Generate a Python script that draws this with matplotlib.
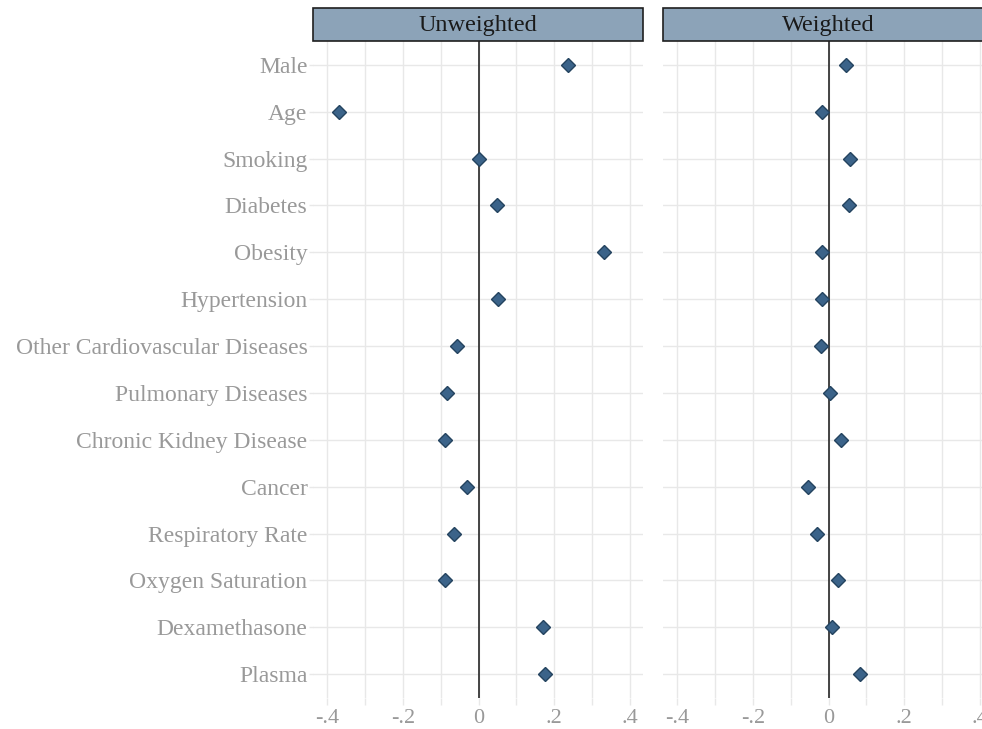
import matplotlib
matplotlib.use("Agg")
import matplotlib.pyplot as plt
from matplotlib.patches import Rectangle

# covariates, top to bottom
labels = ["Male", "Age", "Smoking", "Diabetes", "Obesity", "Hypertension",
          "Other Cardiovascular Diseases", "Pulmonary Diseases",
          "Chronic Kidney Disease", "Cancer", "Respiratory Rate",
          "Oxygen Saturation", "Dexamethasone", "Plasma"]

unweighted = [0.237, -0.368, 0.0, 0.048, 0.331, 0.050, -0.057, -0.083,
              -0.089, -0.030, -0.064, -0.089, 0.171, 0.175]
weighted = [0.047, -0.017, 0.057, 0.053, -0.018, -0.018, -0.019, 0.004,
            0.033, -0.054, -0.030, 0.026, 0.008, 0.082]

panels = ["Unweighted", "Weighted"]
xticks = [-0.4, -0.2, 0, 0.2, 0.4]
xticklabels = ["-.4", "-.2", "0", ".2", ".4"]

plt.rcParams['font.family'] = ['Liberation Serif', 'DejaVu Serif']

W, H = 982, 729
fig = plt.figure(figsize=(W / 100, H / 100), dpi=100)

label_col = "#999999"
grid_col = "#e8e8e8"
mark_face = "#3b6389"
mark_edge = "#24435f"

y = list(range(len(labels), 0, -1))

def px(x0, y0, x1, y1):
    return [x0 / W, 1 - y1 / H, (x1 - x0) / W, (y1 - y0) / H]

for i, (name, vals) in enumerate(zip(panels, [unweighted, weighted])):
    left = 313 + i * 350
    ax = fig.add_axes(px(left, 41, left + 330, 698))
    ax.set_xlim(-0.437, 0.434)
    ax.set_ylim(0.49, len(labels) + 0.51)

    ax.set_xticks(xticks)
    ax.set_xticklabels(xticklabels)
    ax.set_xticks([-0.3, -0.1, 0.1, 0.3], minor=True)
    ax.set_yticks(y)
    ax.set_yticklabels(labels if i == 0 else [])

    ax.grid(True, which="both", axis="x", color=grid_col, lw=1)
    ax.grid(True, which="major", axis="y", color=grid_col, lw=1)
    ax.set_axisbelow(True)
    for s in ax.spines.values():
        s.set_visible(False)

    ax.tick_params(axis="both", which="major", colors=grid_col, length=5,
                   width=1, labelcolor=label_col)
    ax.tick_params(axis="x", which="minor", colors=grid_col, length=5, width=1)
    ax.tick_params(axis="y", pad=1, length=3 if i == 0 else 0, labelsize=17)
    ax.tick_params(axis="x", pad=3, labelsize=16)

    ax.axvline(0, color="#262626", lw=1.2, zorder=2)
    ax.plot(vals, y, ls="none", marker="D", ms=7, mfc=mark_face,
            mec=mark_edge, mew=1, zorder=3)

    # facet strip
    sax = fig.add_axes(px(left, 8, left + 330, 41))
    sax.set_xlim(0, 1)
    sax.set_ylim(0, 1)
    sax.axis("off")
    sax.add_patch(Rectangle((0, 0), 1, 1, facecolor="#8ca3b8",
                            edgecolor="#1f1f1f", lw=1.2, clip_on=False))
    sax.text(0.5, 0.47, name, ha="center", va="center", fontsize=17.5,
             color="#1a1a1a")

fig.savefig("out.png", dpi=100)
